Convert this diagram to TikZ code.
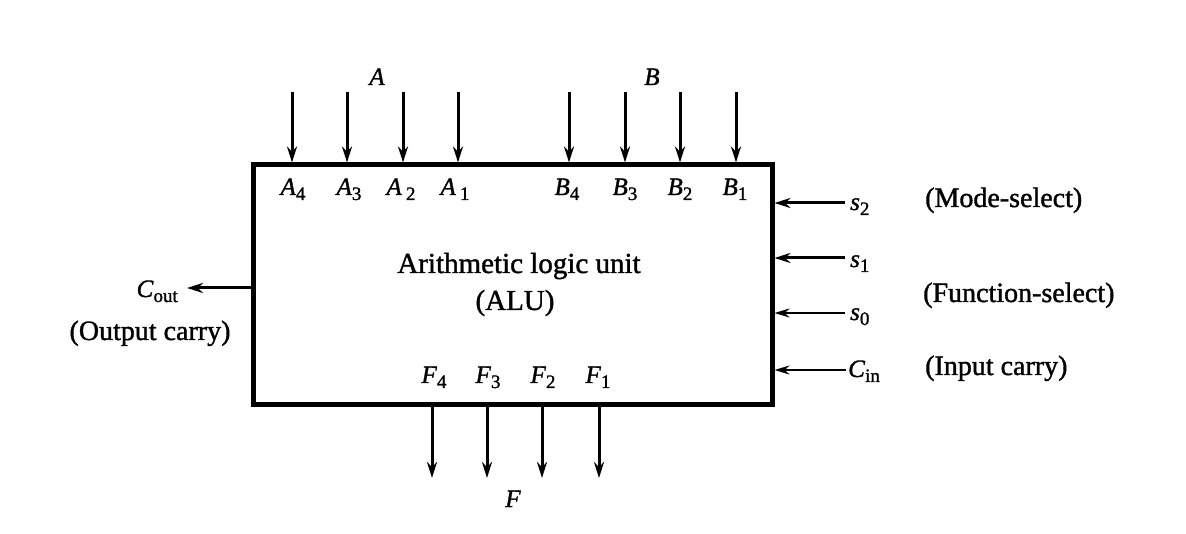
\documentclass[tikz,border=0pt]{standalone}
\usepackage{fontspec}
\setmainfont{Liberation Serif}[FakeBold=1.3]
\usetikzlibrary{arrows.meta}
\newcommand\lsb[1]{\raisebox{-5pt}{\fontsize{19}{19}\selectfont #1}}
\begin{document}
\begin{tikzpicture}[x=1pt,y=-1pt,font=\fontsize{25}{30}\selectfont,
  sig/.style={line width=3pt,-{Stealth[length=16pt,width=10pt]}},
  thinsig/.style={line width=2.2pt,-{Stealth[length=15pt,width=9pt]}},
  lbl/.style={inner sep=0pt,anchor=base},
  big/.style={font=\fontsize{28}{32}\selectfont}]
\useasboundingbox (0,0) rectangle (1186,534);
\node[draw,line width=5pt,minimum width=519pt,minimum height=240pt,inner sep=0pt] (alu) at (512.5,285) {};
\node[lbl,font=\fontsize{29}{32}\selectfont] (title) at (519,273) {Arithmetic logic unit};
\node[lbl,font=\fontsize{29}{32}\selectfont] (alutxt) at (515,310) {(ALU)};
% top inputs
\foreach \n/\x in {a4/292,a3/347,a2/403,a1/458,b4/569,b3/625,b2/680,b1/736}{
  \coordinate (\n top) at (\x,92);
  \draw[sig] (\n top) -- (\n top |- alu.north);
}
\node[lbl] (A) at (377,85) {\textit{A}};
\node[lbl] (B) at (652,85) {\textit{B}};
\node[lbl] (A4) at (293,195) {\textit{A}\lsb{4}};
\node[lbl] (A3) at (349,195) {\textit{A}\lsb{3}};
\node[lbl] (A2) at (401,195) {\textit{A}\,\lsb{2}};
\node[lbl] (A1) at (455,195) {\textit{A}\,\lsb{1}};
\node[lbl] (B4) at (567,195) {\textit{B}\lsb{4}};
\node[lbl] (B3) at (625,195) {\textit{B}\lsb{3}};
\node[lbl] (B2) at (680,195) {\textit{B}\lsb{2}};
\node[lbl] (B1) at (735,195) {\textit{B}\lsb{1}};
% bottom outputs
\foreach \n/\x in {f4/432,f3/487,f2/542,f1/599}{
  \coordinate (\n bot) at (\x,478);
  \draw[sig] (\n bot |- alu.south) -- (\n bot);
}
\node[lbl] (F4) at (434,383) {\textit{F}\lsb{4}};
\node[lbl] (F3) at (488,383) {\textit{F}\lsb{3}};
\node[lbl] (F2) at (543,383) {\textit{F}\lsb{2}};
\node[lbl] (F1) at (598,383) {\textit{F}\lsb{1}};
\node[lbl] (F) at (513,507) {\textit{F}};
% right inputs
\coordinate (s2e) at (845,203);
\coordinate (s1e) at (845,258);
\coordinate (s0e) at (845,313);
\coordinate (cine) at (846,370);
\draw[sig] (s2e) -- (s2e -| alu.east);
\draw[sig] (s1e) -- (s1e -| alu.east);
\draw[thinsig] (s0e) -- (s0e -| alu.east);
\draw[thinsig] (cine) -- (cine -| alu.east);
\node[lbl,anchor=base west] (s2) at (850,210) {\textit{s}\lsb{2}};
\node[lbl,anchor=base west] (s1) at (850,267) {\textit{s}\lsb{1}};
\node[lbl,anchor=base west] (s0) at (850,320) {\textit{s}\lsb{0}};
\node[lbl,anchor=base west] (cin) at (848,377) {\textit{C}\lsb{in}};
\node[lbl,big,anchor=base west] (mode) at (925,207) {(Mode-select)};
\node[lbl,big,anchor=base west] (func) at (923,302) {(Function-select)};
\node[lbl,big,anchor=base west] (icarry) at (925,375) {(Input carry)};
% left output
\coordinate (coute) at (187,288);
\draw[sig] (coute -| alu.west) -- (coute);
\node[lbl,anchor=base east] (cout) at (178,297) {\textit{C}\lsb{out}};
\node[lbl,big] (ocarry) at (150,340) {(Output carry)};
\end{tikzpicture}
\end{document}
